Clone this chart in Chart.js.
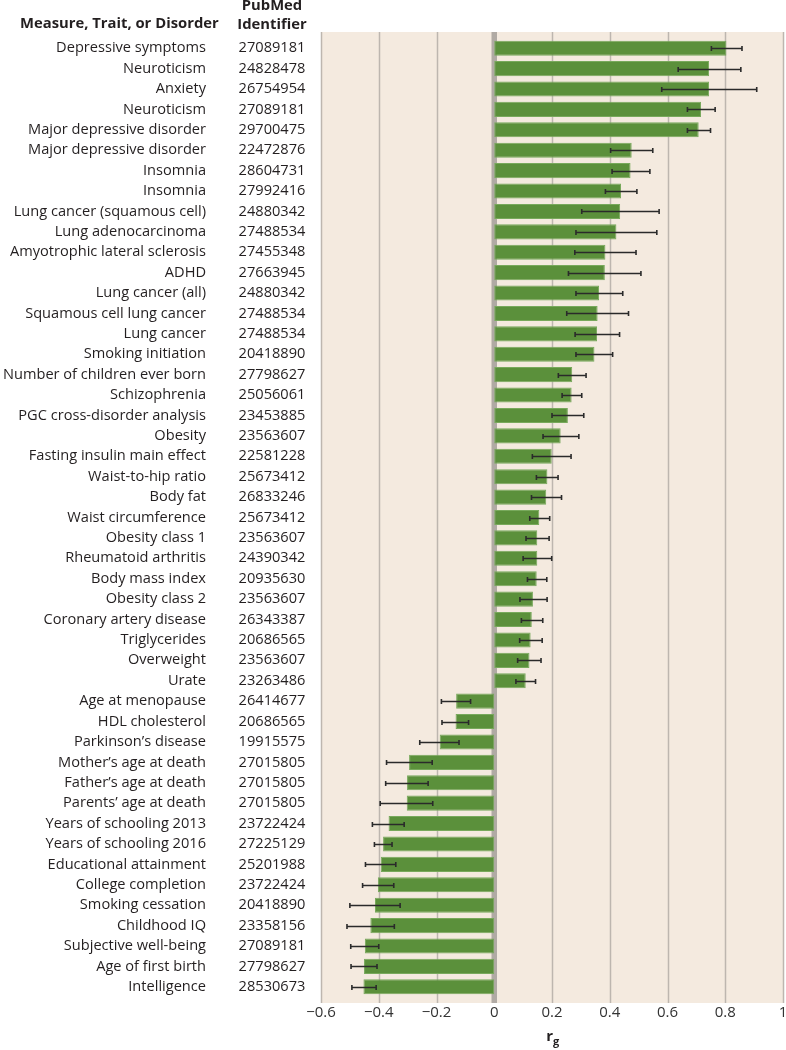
<!DOCTYPE html>
<html>
<head>
<meta charset="utf-8">
<script src="https://cdn.jsdelivr.net/npm/chart.js@4.4.1/dist/chart.umd.min.js"></script>
<style>
	html, body { margin: 0; padding: 0; background: #ffffff; }
	#rg-chart { display: block; }
</style>
</head>
<body>
<canvas id="rg-chart" width="786" height="1050"></canvas>
<script>
var measures = [
	"Depressive symptoms", "Neuroticism", "Anxiety", "Neuroticism", "Major depressive disorder",
	"Major depressive disorder", "Insomnia", "Insomnia", "Lung cancer (squamous cell)", "Lung adenocarcinoma",
	"Amyotrophic lateral sclerosis", "ADHD", "Lung cancer (all)", "Squamous cell lung cancer", "Lung cancer",
	"Smoking initiation", "Number of children ever born", "Schizophrenia", "PGC cross-disorder analysis", "Obesity",
	"Fasting insulin main effect", "Waist-to-hip ratio", "Body fat", "Waist circumference", "Obesity class 1",
	"Rheumatoid arthritis", "Body mass index", "Obesity class 2", "Coronary artery disease", "Triglycerides",
	"Overweight", "Urate", "Age at menopause", "HDL cholesterol", "Parkinson\u2019s disease",
	"Mother\u2019s age at death", "Father\u2019s age at death", "Parents\u2019 age at death", "Years of schooling 2013", "Years of schooling 2016",
	"Educational attainment", "College completion", "Smoking cessation", "Childhood IQ", "Subjective well-being",
	"Age of first birth", "Intelligence"
];

var pubmedIds = [
	"27089181", "24828478", "26754954", "27089181", "29700475",
	"22472876", "28604731", "27992416", "24880342", "27488534",
	"27455348", "27663945", "24880342", "27488534", "27488534",
	"20418890", "27798627", "25056061", "23453885", "23563607",
	"22581228", "25673412", "26833246", "25673412", "23563607",
	"24390342", "20935630", "23563607", "26343387", "20686565",
	"23563607", "23263486", "26414677", "20686565", "19915575",
	"27015805", "27015805", "27015805", "23722424", "27225129",
	"25201988", "23722424", "20418890", "23358156", "27089181",
	"27798627", "28530673"
];

// genetic correlation estimates
var rg = [
	0.804, 0.744, 0.744, 0.716, 0.708,
	0.476, 0.472, 0.439, 0.436, 0.423,
	0.385, 0.383, 0.363, 0.358, 0.356,
	0.347, 0.270, 0.268, 0.255, 0.230,
	0.199, 0.184, 0.180, 0.156, 0.149,
	0.149, 0.147, 0.134, 0.130, 0.126,
	0.122, 0.109, -0.132, -0.134, -0.189,
	-0.295, -0.302, -0.303, -0.366, -0.385,
	-0.393, -0.403, -0.413, -0.429, -0.448,
	-0.451, -0.453
];

// error bar ends
var ciLow = [
	0.752, 0.637, 0.580, 0.669, 0.669,
	0.403, 0.408, 0.385, 0.303, 0.283,
	0.279, 0.257, 0.283, 0.251, 0.280,
	0.283, 0.222, 0.235, 0.200, 0.169,
	0.132, 0.146, 0.129, 0.123, 0.110,
	0.100, 0.115, 0.089, 0.094, 0.088,
	0.081, 0.075, -0.183, -0.181, -0.258,
	-0.373, -0.376, -0.395, -0.422, -0.415,
	-0.446, -0.456, -0.500, -0.510, -0.497,
	-0.496, -0.493
];

var ciHigh = [
	0.858, 0.854, 0.909, 0.765, 0.749,
	0.549, 0.539, 0.494, 0.571, 0.563,
	0.491, 0.508, 0.445, 0.465, 0.434,
	0.410, 0.318, 0.303, 0.310, 0.293,
	0.266, 0.221, 0.233, 0.192, 0.190,
	0.199, 0.182, 0.183, 0.168, 0.166,
	0.162, 0.143, -0.082, -0.089, -0.122,
	-0.215, -0.229, -0.213, -0.312, -0.354,
	-0.341, -0.348, -0.326, -0.346, -0.400,
	-0.406, -0.409
];

var xTicks = [-0.6, -0.4, -0.2, 0, 0.2, 0.4, 0.6, 0.8, 1];

var FONT = "'Open Sans', 'DejaVu Sans', sans-serif";
var TEXT = "#231f20";

var RgChart = (function() {

	// beige panel, grid lines and the zero line, under the bars
	var panel = {
		id: "panel",
		beforeDatasetsDraw: function(chart) {
			var ctx = chart.ctx, area = chart.chartArea, x = chart.scales.x;
			var top = area.top - 6, bottom = area.bottom + 6;
			ctx.save();
			ctx.fillStyle = "#f4eadf";
			ctx.fillRect(x.getPixelForValue(-0.6), top, x.getPixelForValue(1) - x.getPixelForValue(-0.6), bottom - top);
			ctx.strokeStyle = "#bdb6af";
			ctx.lineWidth = 1.5;
			xTicks.forEach(function(v) {
				if (v === 0) return;
				var px = Math.round(x.getPixelForValue(v)) + 0.5;
				ctx.beginPath();
				ctx.moveTo(px, top);
				ctx.lineTo(px, bottom);
				ctx.stroke();
			});
			ctx.strokeStyle = "#b0aaa4";
			ctx.lineWidth = 5.5;
			var z = x.getPixelForValue(0);
			ctx.beginPath();
			ctx.moveTo(z, top);
			ctx.lineTo(z, bottom);
			ctx.stroke();
			ctx.restore();
		}
	};

	// error bars with end caps
	var errorBars = {
		id: "errorBars",
		afterDatasetsDraw: function(chart) {
			var ctx = chart.ctx, x = chart.scales.x;
			var meta = chart.getDatasetMeta(0);
			ctx.save();
			ctx.strokeStyle = "#2a2a2a";
			ctx.lineWidth = 1.6;
			meta.data.forEach(function(bar, i) {
				var y = Math.round(bar.y) + 0.5;
				var a = x.getPixelForValue(ciLow[i]), b = x.getPixelForValue(ciHigh[i]);
				ctx.beginPath();
				ctx.moveTo(a, y); ctx.lineTo(b, y);
				ctx.moveTo(a, y - 2.5); ctx.lineTo(a, y + 2.5);
				ctx.moveTo(b, y - 2.5); ctx.lineTo(b, y + 2.5);
				ctx.stroke();
			});
			ctx.restore();
		}
	};

	// two label columns, headers and the axis title
	var labels = {
		id: "labels",
		afterDraw: function(chart) {
			var ctx = chart.ctx, y = chart.scales.y, area = chart.chartArea;
			ctx.save();
			ctx.fillStyle = TEXT;
			ctx.textBaseline = "middle";
			ctx.font = "14.6px " + FONT;
			measures.forEach(function(m, i) {
				var py = y.getPixelForValue(i);
				ctx.textAlign = "right";
				ctx.fillText(m, 206, py);
				ctx.textAlign = "center";
				ctx.fillText(pubmedIds[i], 272, py);
			});
			ctx.font = "bold 14.8px " + FONT;
			ctx.textAlign = "left";
			ctx.fillText("Measure, Trait, or Disorder", 20, 24);
			ctx.textAlign = "center";
			ctx.fillText("PubMed", 272, 6);
			ctx.fillText("Identifier", 272, 25);
			var cx = (area.left + area.right) / 2;
			ctx.font = "bold 15px " + FONT;
			ctx.textAlign = "right";
			ctx.fillText("r", cx + 1, 1037);
			ctx.font = "bold 11px " + FONT;
			ctx.textAlign = "left";
			ctx.fillText("g", cx + 1, 1042);
			ctx.restore();
		}
	};

	function chart() {
		new Chart(document.getElementById("rg-chart"), {
			type: "bar",
			data: {
				labels: measures,
				datasets: [{
					data: rg,
					backgroundColor: "#5b903b",
					borderColor: "#78a95c",
					borderWidth: 1,
					borderSkipped: false,
					barPercentage: 0.74,
					categoryPercentage: 1
				}]
			},
			options: {
				indexAxis: "y",
				responsive: false,
				animation: false,
				layout: { padding: { left: 321, right: 3, top: 38, bottom: 0 } },
				plugins: {
					legend: { display: false },
					tooltip: { enabled: false }
				},
				scales: {
					y: { display: false, offset: true },
					x: {
						min: -0.6,
						max: 1,
						afterBuildTicks: function(s) {
							s.ticks = xTicks.map(function(v) { return { value: v }; });
						},
						afterFit: function(s) {
							s.height = 53;
							s.paddingLeft = 0;
							s.paddingRight = 0;
						},
						grid: { display: false, drawTicks: false },
						border: { display: false },
						ticks: {
							padding: 7,
							color: "#333333",
							font: { family: FONT, size: 15 },
							maxRotation: 0,
							callback: function(v) {
								var s = String(Math.round(Math.abs(v) * 10) / 10);
								return v < -0.001 ? "\u2212" + s : s;
							}
						}
					}
				}
			},
			plugins: [panel, errorBars, labels]
		});
	}

	return { render: chart };

})();

RgChart.render();
</script>
</body>
</html>
